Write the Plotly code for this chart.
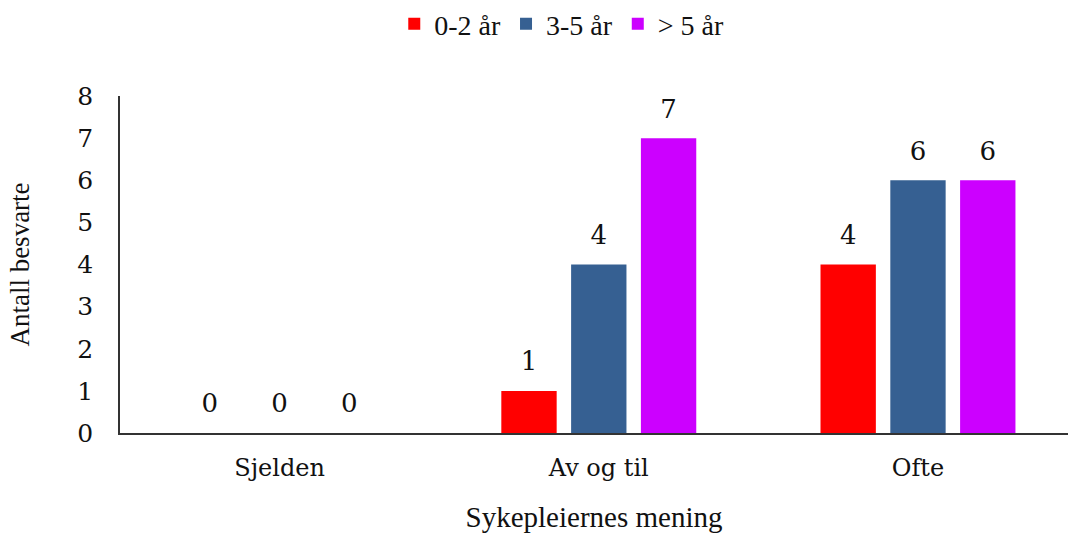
import plotly.graph_objects as go

categories = ["Sjelden", "Av og til", "Ofte"]
series_names = ["0-2 år", "3-5 år", "> 5 år"]
vals_0_2 = [0, 1, 4]
vals_3_5 = [0, 4, 6]
vals_5p = [0, 7, 6]
colors = ["#FF0000", "#366092", "#CC00FF"]
y_ticks = [0, 1, 2, 3, 4, 5, 6, 7, 8]

times = "Liberation Serif, Times New Roman, serif"
cambria = "DejaVu Serif, serif"
ink = "#111111"

fig = go.Figure()
series = list(zip(series_names, [vals_0_2, vals_3_5, vals_5p], colors))
for i, (name, vals, col) in enumerate(series):
    fig.add_trace(go.Bar(
        x=categories, y=vals, name=name, marker=dict(color=col, line=dict(width=0)),
        offsetgroup=str(i), alignmentgroup="g",
    ))
for i, (name, vals, col) in enumerate(series):
    fig.add_trace(go.Scatter(
        x=categories, y=vals, mode="markers+text", showlegend=False, hoverinfo="skip",
        marker=dict(size=21, opacity=0, color=col),
        text=[str(v) for v in vals], textposition="top center", cliponaxis=False,
        textfont=dict(family=cambria, size=26, color=ink),
        offsetgroup=str(i), alignmentgroup="g",
    ))

fig.update_layout(
    width=1068, height=533,
    margin=dict(l=120, r=0, t=96, b=100),
    paper_bgcolor="white", plot_bgcolor="white",
    barmode="group", bargap=0.344, bargroupgap=0.207,
    scattermode="group", scattergap=0.344,
    showlegend=True,
    legend=dict(orientation="h", x=0.526, xref="container", xanchor="center",
                y=0.955, yanchor="middle", yref="container",
                font=dict(family=times, size=28, color=ink),
                itemwidth=30, traceorder="normal"),
    xaxis=dict(range=[-0.5, 2.47], showline=True, linecolor="#333333", linewidth=1.5,
               ticks="", ticklabelstandoff=12,
               tickfont=dict(family=cambria, size=24, color=ink),
               title=dict(text="Sykepleiernes mening", font=dict(family=times, size=29, color=ink), standoff=31),
               showgrid=False, zeroline=False),
    yaxis=dict(range=[0, 8], tickvals=y_ticks, showline=True, linecolor="#333333", linewidth=1.5,
               ticks="", ticklabelstandoff=20,
               tickfont=dict(family=cambria, size=25, color=ink),
               title=dict(text="Antall besvarte", font=dict(family=times, size=27, color=ink), standoff=40),
               showgrid=False, zeroline=False),
)

fig.write_html("out.html", config={"displayModeBar": False},
               post_script="document.body.style.margin='0';document.body.style.overflow='hidden';")
